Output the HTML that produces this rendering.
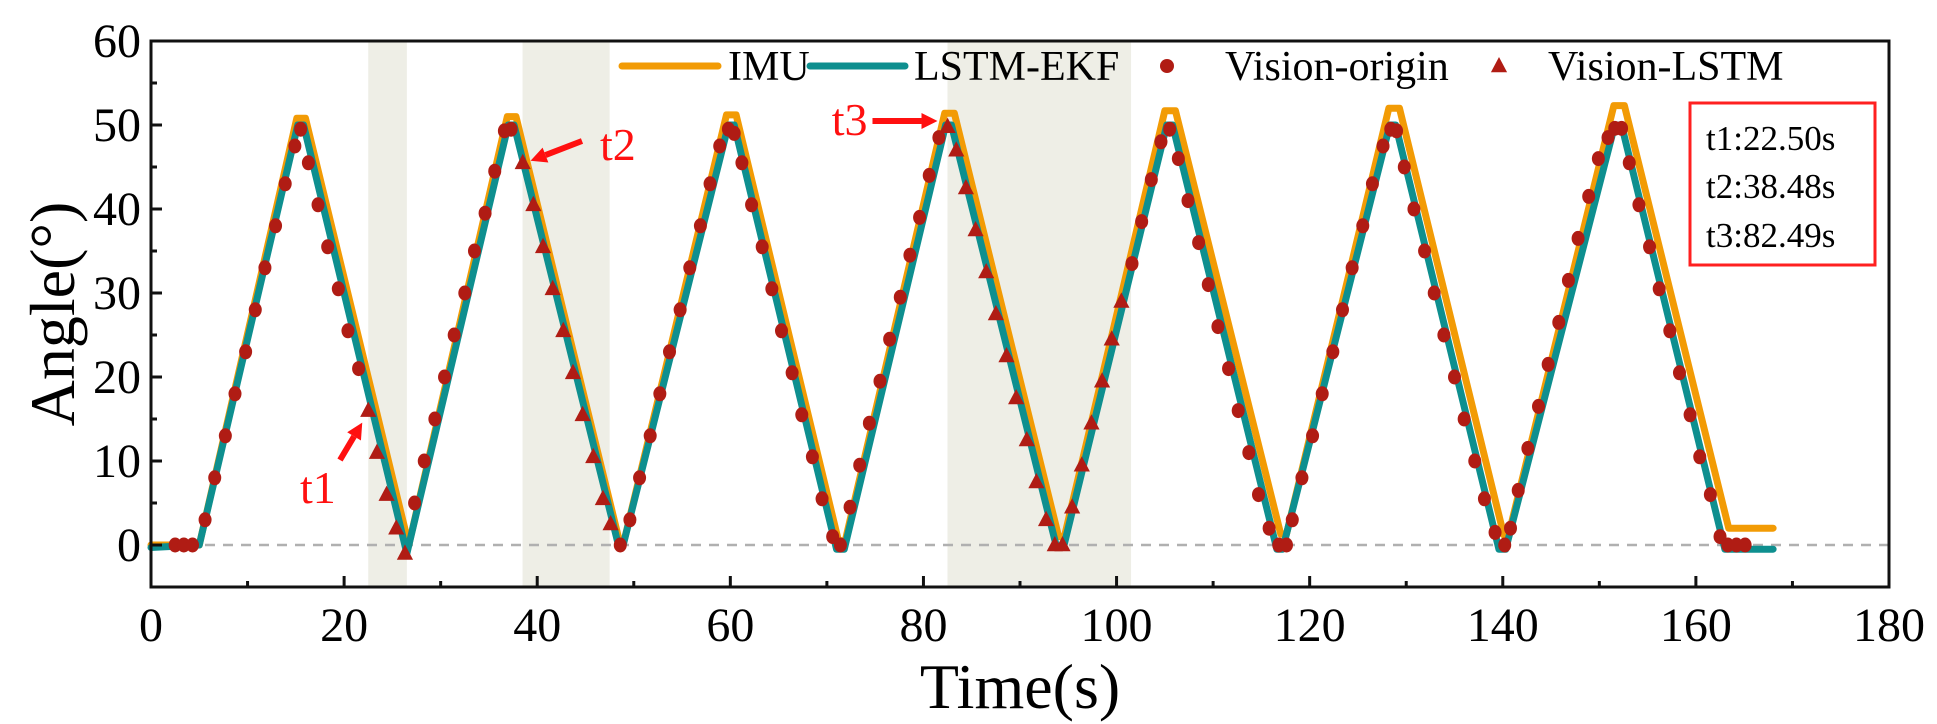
<!DOCTYPE html>
<html><head><meta charset="utf-8">
<style>
html,body{margin:0;padding:0;background:#fff;}
svg{display:block;font-family:"Liberation Serif",serif;}
</style></head>
<body>
<svg id="chart" width="1937" height="724" viewBox="0 0 1937 724" xmlns="http://www.w3.org/2000/svg">
  <g id="bands"></g>
  <line id="zeroline" stroke="#b0b0b0" stroke-width="2.5" stroke-dasharray="10,8"/>
  <g id="lines"></g>
  <g id="markers"></g>
  <g id="axes"></g>
  <g id="legend"></g>
  <text x="0" y="0" transform="translate(74,314) rotate(-90)" text-anchor="middle" font-size="64">Angle(°)</text>
  <text x="1020" y="708" text-anchor="middle" font-size="64">Time(s)</text>
  <g>
    <rect x="1690" y="103" width="185" height="162" fill="#fff" stroke="#ff2020" stroke-width="3"/>
    <text x="1706" y="150" font-size="35">t1:22.50s</text>
    <text x="1706" y="198" font-size="35">t2:38.48s</text>
    <text x="1706" y="247" font-size="35">t3:82.49s</text>
  </g>
  <g id="annots"></g>
</svg>
<script>
// ---- data ----
const xTicks = [0,20,40,60,80,100,120,140,160,180];
const yTicks = [0,10,20,30,40,50,60];
const bandStarts = [22.5, 38.48, 82.49];
const bandEnds = [26.5, 47.5, 101.5];
const imuT = [0,5,15.1,16.0,26.7,36.9,37.8,48.5,49.0,59.6,60.6,71.2,71.9,82.2,83.2,94.0,94.6,105.0,106.1,117.0,117.6,128.2,129.3,140.1,140.6,151.5,152.6,163.4,168];
const imuV = [0,0,50.8,50.8,0,51,51,0.5,0.5,51.2,51.2,0.5,0.5,51.4,51.4,1,1,51.7,51.7,1.3,1.3,52,52,1.2,1.2,52.3,52.3,2,2];
const ekfT = [0,5,15.2,15.8,26.5,37.0,37.6,48.3,48.9,59.8,60.4,71.0,71.8,82.3,82.9,93.8,94.5,105.2,105.8,116.6,117.2,128.3,128.9,139.6,140.3,151.6,152.3,163.0,168];
const ekfV = [-0.3,0,50,50,-1,50,50,0.5,0,50,50,-0.5,-0.5,50,50,-0.3,-0.3,50,50,-0.5,-0.5,50,50,-0.5,-0.5,50,50,-0.5,-0.5];
const originPts = [[2.5,0],[3.4,0],[4.3,0],
[5.6,3],[6.6,8],[7.7,13],[8.7,18],[9.8,23],[10.8,28],[11.8,33],[12.9,38],[13.9,43],[14.9,47.5],[15.5,49.5],
[16.3,45.5],[17.3,40.5],[18.3,35.5],[19.4,30.5],[20.4,25.5],[21.5,21],
[27.3,5],[28.3,10],[29.4,15],[30.4,20],[31.4,25],[32.5,30],[33.5,35],[34.6,39.5],[35.6,44.5],[36.6,49.3],[37.3,49.5],
[48.6,0],
[49.6,3],[50.6,8],[51.7,13],[52.7,18],[53.7,23],[54.8,28],[55.8,33],[56.9,38],[57.9,43],[58.9,47.5],[59.8,49.5],[60.4,49],
[61.2,45.5],[62.2,40.5],[63.3,35.5],[64.3,30.5],[65.3,25.5],[66.4,20.5],[67.4,15.5],[68.5,10.5],[69.5,5.5],[70.6,1],[71.4,0],
[72.4,4.5],[73.4,9.5],[74.4,14.5],[75.5,19.5],[76.5,24.5],[77.6,29.5],[78.6,34.5],[79.6,39],[80.6,44],[81.6,48.5],
[101.6,33.5],[102.6,38.5],[103.6,43.5],[104.6,48],[105.5,49.5],
[106.4,46],[107.4,41],[108.5,36],[109.5,31],[110.5,26],[111.6,21],[112.6,16],[113.7,11],[114.7,6],[115.8,2],[116.8,0],[117.6,0],
[118.2,3],[119.2,8],[120.3,13],[121.3,18],[122.4,23],[123.4,28],[124.4,33],[125.5,38],[126.5,43],[127.6,47.5],[128.4,49.5],[129.0,49.3],
[129.8,45],[130.8,40],[131.9,35],[132.9,30],[133.9,25],[135,20],[136,15],[137.1,10],[138.1,5.5],[139.2,1.5],[140.2,0],[140.8,2],
[141.6,6.5],[142.6,11.5],[143.7,16.5],[144.7,21.5],[145.8,26.5],[146.8,31.5],[147.8,36.5],[148.9,41.5],[149.9,46],[150.9,48.5],[151.6,49.6],[152.3,49.6],
[153.1,45.5],[154.1,40.5],[155.2,35.5],[156.2,30.5],[157.3,25.5],[158.3,20.5],[159.4,15.5],[160.4,10.5],[161.5,6],[162.5,1],[163.3,0],[164.2,0],[165.1,0]];
const lstmPts = [[22.5,16],[23.4,11],[24.4,6],[25.4,2],[26.3,-1],
[38.5,45.5],[39.6,40.5],[40.6,35.5],[41.6,30.5],[42.7,25.5],[43.7,20.5],[44.7,15.5],[45.8,10.5],[46.8,5.5],[47.6,2.5],
[82.5,49.8],[83.4,47],[84.4,42.5],[85.4,37.5],[86.5,32.5],[87.5,27.5],[88.6,22.5],[89.6,17.5],[90.7,12.5],[91.7,7.5],[92.7,3],[93.6,0],[94.4,0],[95.4,4.5],[96.4,9.5],[97.4,14.5],[98.5,19.5],[99.5,24.5],[100.5,29]];

// ---- axes functions ----
const L=151,R=1889,T=41,B=587, xMin=0,xMax=180,yMin=-5,yMax=60;
const X=t=>L+(t-xMin)/(xMax-xMin)*(R-L);
const Y=v=>B-(v-yMin)/(yMax-yMin)*(B-T);
const NS='http://www.w3.org/2000/svg';
function mk(tag,attrs,parent){const e=document.createElementNS(NS,tag);for(const k in attrs)e.setAttribute(k,attrs[k]);parent.appendChild(e);return e;}

const bands=document.getElementById('bands');
bandStarts.forEach((s,i)=>{
  const r=mk('rect',{x:X(s),y:T,width:X(bandEnds[i])-X(s),height:B-T,fill:'#eeeee6'},bands);
  
  
});
const zl=document.getElementById('zeroline');
zl.setAttribute('x1',L);zl.setAttribute('x2',R);zl.setAttribute('y1',Y(0));zl.setAttribute('y2',Y(0));

const lines=document.getElementById('lines');
const imuPath=mk('polyline',{points:imuT.map((t,i)=>X(t)+','+Y(imuV[i])).join(' '),fill:'none',stroke:'#f29b05','stroke-width':7,'stroke-linejoin':'round','stroke-linecap':'round'},lines);


const ekfPath=mk('polyline',{points:ekfT.map((t,i)=>X(t)+','+Y(ekfV[i])).join(' '),fill:'none',stroke:'#0e8f8f','stroke-width':7,'stroke-linejoin':'round','stroke-linecap':'round'},lines);



const markers=document.getElementById('markers');
const MC='#b01c14';
originPts.forEach(p=>{
  const c=mk('ellipse',{cx:X(p[0]),cy:Y(p[1]),rx:6.5,ry:7.5,fill:MC},markers);
  
  
});
function tri(cx,cy,s){return `${cx},${cy-s} ${cx-s*0.9},${cy+s*0.7} ${cx+s*0.9},${cy+s*0.7}`;}
lstmPts.forEach(p=>{
  const tr=mk('polygon',{points:tri(X(p[0]),Y(p[1]),9),fill:MC},markers);
  
  
});

// axes
const axes=document.getElementById('axes');
const frame=mk('rect',{x:L,y:T,width:R-L,height:B-T,fill:'none',stroke:'#111','stroke-width':3},axes);


xTicks.forEach((t,i)=>{
  mk('line',{x1:X(t),x2:X(t),y1:B,y2:B-11,stroke:'#111','stroke-width':3},axes);
  if(i<xTicks.length-1) mk('line',{x1:X(t+10),x2:X(t+10),y1:B,y2:B-6,stroke:'#111','stroke-width':3},axes);
  const lb=mk('text',{x:X(t),y:641,'text-anchor':'middle','font-size':48},axes);
  lb.textContent=t;
  
  
});
yTicks.forEach((v,i)=>{
  mk('line',{x1:L,x2:L+11,y1:Y(v),y2:Y(v),stroke:'#111','stroke-width':3},axes);
  if(i<yTicks.length-1) mk('line',{x1:L,x2:L+6,y1:Y(v+5),y2:Y(v+5),stroke:'#111','stroke-width':3},axes);
  const lb=mk('text',{x:141,y:Y(v)+16,'text-anchor':'end','font-size':48},axes);
  lb.textContent=v;
  
  
});

// legend
const lg=document.getElementById('legend');
const ly=66;
const l1=mk('line',{x1:622,x2:718,y1:ly,y2:ly,stroke:'#f29b05','stroke-width':7,'stroke-linecap':'round'},lg);


const t1=mk('text',{x:728,y:80,'font-size':42},lg);t1.textContent='IMU';


const l2=mk('line',{x1:810,x2:905,y1:ly,y2:ly,stroke:'#0e8f8f','stroke-width':7,'stroke-linecap':'round'},lg);


const t2=mk('text',{x:914,y:80,'font-size':42},lg);t2.textContent='LSTM-EKF';


const d3=mk('circle',{cx:1167,cy:ly,r:7,fill:MC},lg);


const t3=mk('text',{x:1225,y:80,'font-size':42},lg);t3.textContent='Vision-origin';


const d4=mk('polygon',{points:tri(1499,ly,9),fill:MC},lg);


const t4=mk('text',{x:1548,y:80,'font-size':42},lg);t4.textContent='Vision-LSTM';



// annotations
const an=document.getElementById('annots');
function arrow(x1,y1,x2,y2,name){
  const g=mk('g',{},an);
  
  
  const a=Math.atan2(y2-y1,x2-x1),h=16,w=8;
  const bx=x2-h*Math.cos(a),by=y2-h*Math.sin(a);
  mk('line',{x1:x1,y1:y1,x2:bx,y2:by,stroke:'#ff1010','stroke-width':6},g);
  mk('polygon',{points:`${x2},${y2} ${bx-w*Math.sin(a)},${by+w*Math.cos(a)} ${bx+w*Math.sin(a)},${by-w*Math.cos(a)}`,fill:'#ff1010'},g);
}
arrow(340,460,X(bandStarts[0])-6,Y(16)+12,'t1-arrow');
const a1=mk('text',{x:300,y:503,'font-size':46,fill:'#ff1010'},an);a1.textContent='t1';


arrow(582,141,X(bandStarts[1])+8,Y(45.5)-2,'t2-arrow');
const a2=mk('text',{x:600,y:160,'font-size':46,fill:'#ff1010'},an);a2.textContent='t2';


arrow(X(bandStarts[2])-75,Y(50)-4,X(bandStarts[2])-10,Y(50)-4,'t3-arrow');
const a3=mk('text',{x:X(bandStarts[2])-80,y:Y(50)+10,'font-size':46,fill:'#ff1010','text-anchor':'end'},an);a3.textContent='t3';


</script>
</body></html>
